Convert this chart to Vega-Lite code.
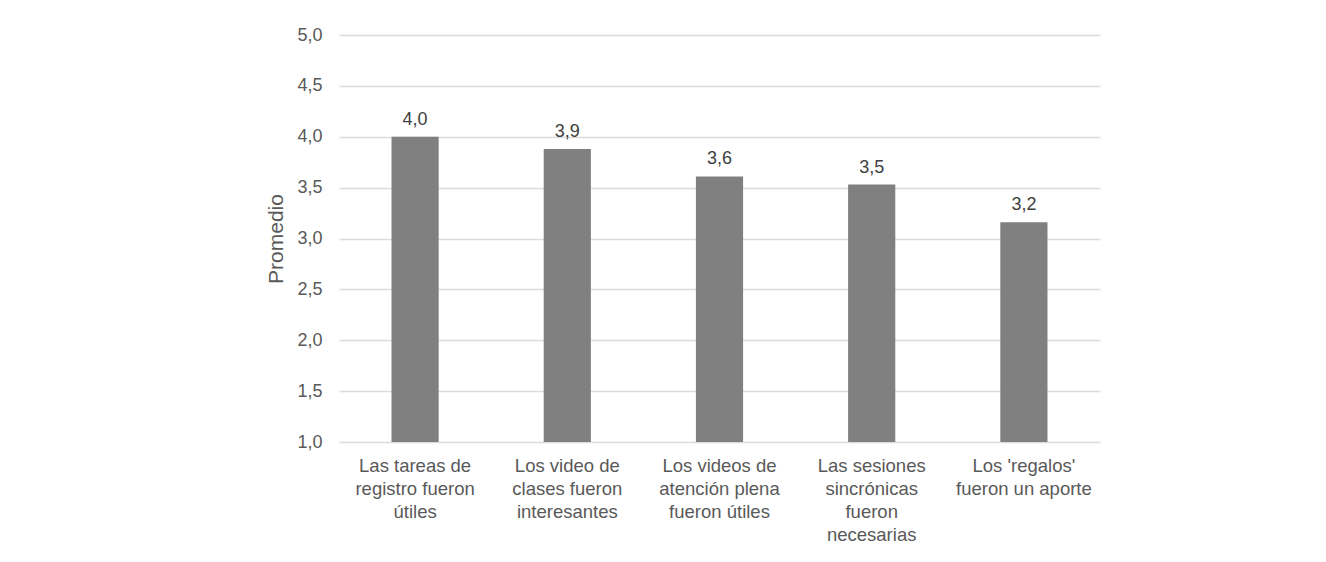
{
  "$schema": "https://vega.github.io/schema/vega-lite/v6.json",
  "autosize": {"type": "none"},
  "width": 761,
  "height": 407,
  "padding": {"left": 339, "top": 35, "right": 226, "bottom": 120},
  "background": "white",
  "config": {
    "locale": {"number": {"decimal": ",", "thousands": ".", "grouping": [3], "currency": ["", " €"]}},
    "font": "Liberation Sans",
    "view": {"stroke": null}
  },
  "data": {
    "values": [
      {"pregunta": "Las tareas de|registro fueron|útiles", "promedio": 4.0},
      {"pregunta": "Los video de|clases fueron|interesantes", "promedio": 3.88},
      {"pregunta": "Los videos de|atención plena|fueron útiles", "promedio": 3.61},
      {"pregunta": "Las sesiones|sincrónicas|fueron|necesarias", "promedio": 3.53},
      {"pregunta": "Los 'regalos'|fueron un aporte", "promedio": 3.16}
    ]
  },
  "encoding": {
    "x": {
      "field": "pregunta",
      "type": "nominal",
      "sort": null,
      "scale": {"paddingInner": 0.69, "paddingOuter": 0.345},
      "axis": {
        "title": null,
        "labelAngle": 0,
        "labelExpr": "split(datum.label, '|')",
        "labelFontSize": 18.5,
        "labelColor": "#595959",
        "labelLineHeight": 23,
        "labelPadding": 14,
        "labelBaseline": "top",
        "labelLimit": 300,
        "domain": false,
        "ticks": false
      }
    },
    "y": {
      "field": "promedio",
      "type": "quantitative",
      "scale": {"domain": [1, 5], "zero": false, "nice": false},
      "axis": {
        "title": "Promedio",
        "titleFontSize": 21,
        "titleFontWeight": "normal",
        "titleColor": "#595959",
        "titlePadding": 10,
        "values": [1, 1.5, 2, 2.5, 3, 3.5, 4, 4.5, 5],
        "format": ".1f",
        "labelFontSize": 18,
        "labelColor": "#595959",
        "labelPadding": 17,
        "domain": false,
        "ticks": false,
        "gridColor": "#dcdcdc",
        "gridWidth": 1.5
      }
    }
  },
  "layer": [
    {
      "mark": {"type": "bar", "color": "#808080"},
      "encoding": {"y2": {"datum": 1}}
    },
    {
      "mark": {"type": "text", "fontSize": 18, "color": "#404040", "baseline": "alphabetic", "dy": -12},
      "encoding": {"text": {"field": "promedio", "type": "quantitative", "format": ".1f"}}
    }
  ]
}
